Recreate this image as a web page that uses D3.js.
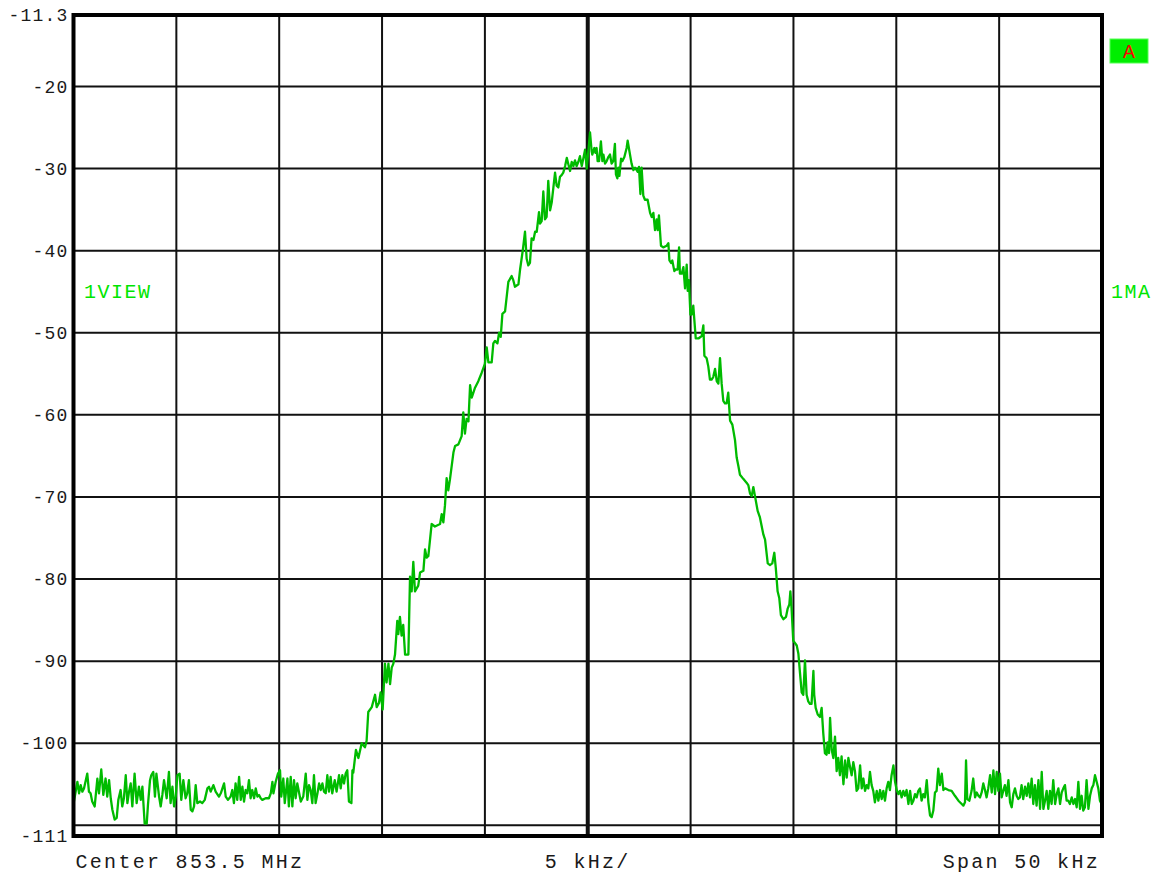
<!DOCTYPE html>
<html>
<head>
<meta charset="utf-8">
<script src="https://cdn.jsdelivr.net/npm/d3@7/dist/d3.min.js"></script>
<style>
  html, body { margin: 0; padding: 0; background: #fff; }
  svg { display: block; }
</style>
</head>
<body>
<svg id="chart" width="1156" height="878"></svg>
<script>
// ---- data ----
const centerLabel = "Center 853.5 MHz";
const divLabel = "5 kHz/";
const spanLabel = "Span 50 kHz";
const xTickValues = [-25, -20, -15, -10, -5, 0, 5, 10, 15, 20, 25];
const yGridValues = [-20, -30, -40, -50, -60, -70, -80, -90, -100, -110];
const yLabelValues = [-11.3, -20, -30, -40, -50, -60, -70, -80, -90, -100, -111.3];
const yLabelTexts = ["-11.3", "-20", "-30", "-40", "-50", "-60", "-70", "-80", "-90", "-100", "-111"];
const leftTag = "1VIEW";
const rightTag = "1MA";
const traceTag = "A";

// frequency offset from centre (kHz)
const freqKHz = [
-24.98,-24.81,-24.73,-24.65,-24.57,-24.49,-24.33,-24.25,-24.17,-24.09,-23.97,-23.84,-23.76,-23.65,-23.55,-23.44,-23.36,-23.27,-23.19,-23.11,
-23.00,-22.90,-22.82,-22.71,-22.63,-22.55,-22.46,-22.38,-22.30,-22.22,-22.14,-22.03,-21.93,-21.82,-21.73,-21.65,-21.54,-21.44,-21.38,-21.28,
-21.22,-21.12,-21.04,-20.97,-20.84,-20.76,-20.68,-20.60,-20.47,-20.36,-20.28,-20.19,-20.11,-20.03,-19.95,-19.84,-19.76,-19.66,-19.55,-19.47,
-19.39,-19.30,-19.22,-19.14,-19.06,-18.98,-18.85,-18.74,-18.62,-18.49,-18.41,-18.33,-18.20,-18.09,-17.93,-17.84,-17.68,-17.60,-17.49,-17.36,
-17.28,-17.20,-17.12,-17.04,-16.95,-16.87,-16.79,-16.71,-16.63,-16.55,-16.47,-16.39,-16.31,-16.22,-16.14,-16.06,-15.98,-15.90,-15.82,-15.66,
-15.50,-15.41,-15.33,-15.28,-15.17,-15.06,-14.96,-14.90,-14.80,-14.73,-14.60,-14.53,-14.44,-14.36,-14.28,-14.20,-14.12,-13.95,-13.83,-13.71,
-13.63,-13.55,-13.47,-13.39,-13.31,-13.23,-13.14,-13.06,-12.98,-12.90,-12.82,-12.74,-12.66,-12.58,-12.50,-12.42,-12.30,-12.21,-12.09,-12.01,
-11.93,-11.85,-11.77,-11.69,-11.61,-11.49,-11.44,
-11.40,-11.27,-11.15,-10.99,-10.83,-10.75,-10.67,-10.50,-10.34,-10.26,-10.15,-10.07,-9.97,-9.86,-9.78,-9.69,-9.61,-9.53,-9.45,-9.37,
-9.26,-9.21,-9.13,-9.05,-8.97,-8.88,-8.72,-8.64,-8.56,-8.48,-8.40,-8.24,-8.15,-7.99,-7.91,-7.83,-7.75,-7.59,-7.43,-7.18,
-7.10,-7.02,-6.94,-6.86,-6.78,-6.70,-6.53,-6.45,-6.29,-6.13,-6.05,-5.97,-5.89,-5.80,-5.72,-5.64,-5.48,-5.32,-5.16,-5.00,
-4.91,-4.83,-4.67,-4.59,-4.51,-4.39,-4.31,-4.23,-4.15,-4.02,-3.86,-3.70,-3.62,-3.54,-3.37,-3.29,-3.16,-3.05,-2.97,-2.89,
-2.81,-2.73,-2.64,-2.56,-2.48,-2.37,-2.32,-2.24,-2.16,-2.08,-2.00,-1.92,-1.83,-1.75,-1.67,-1.59,-1.51,-1.43,-1.35,-1.27,
-1.19,-1.10,-1.02,-0.94,-0.86,-0.78,-0.70,-0.62,-0.54,-0.46,-0.38,-0.29,-0.21,-0.13,-0.05,0.03,0.11,0.19,
0.22,0.32,0.38,0.43,0.48,0.55,0.64,0.71,0.76,0.84,0.92,1.00,1.08,1.16,1.24,1.32,1.37,1.44,1.49,1.54,
1.62,1.68,1.78,1.89,1.94,2.02,2.13,2.22,2.30,2.43,2.49,2.56,2.62,2.70,2.78,2.91,3.03,3.11,3.19,3.27,
3.35,3.40,3.46,3.56,3.67,3.84,3.92,3.97,4.05,4.11,4.21,4.27,4.37,4.44,4.48,4.57,4.65,4.73,4.81,4.86,
4.92,4.99,5.05,5.13,5.25,5.38,5.54,5.62,5.67,5.78,5.86,5.94,6.02,6.10,6.19,6.27,6.35,6.43,6.51,6.59,
6.67,6.75,6.83,6.92,7.03,7.16,7.24,7.32,7.40,7.56,7.73,7.81,7.89,7.97,8.05,8.13,8.26,8.37,8.54,8.62,
8.75,8.86,8.97,9.07,9.14,9.18,9.23,9.31,9.39,9.51,9.64,9.72,9.80,9.85,9.91,9.99,10.16,10.24,10.32,10.40,
10.48,10.56,10.64,10.72,10.80,10.88,10.97,11.01,11.08,11.18,11.29,11.37,11.45,11.53,11.61,11.66,11.73,11.78,11.86,11.94,
12.02,12.10,12.18,12.26,12.34,12.43,12.51,12.59,12.67,12.75,12.83,12.91,12.99,
13.07,13.15,13.24,13.32,13.40,13.48,13.56,13.64,13.72,13.80,13.88,13.96,14.05,14.13,14.21,14.29,14.37,14.45,14.53,14.61,
14.69,14.77,14.86,14.94,15.02,15.10,15.18,15.26,15.34,15.42,15.50,15.59,15.67,15.75,15.83,15.91,15.99,16.07,16.15,16.23,
16.31,16.39,16.48,16.56,16.64,16.72,16.80,16.88,16.96,17.04,17.12,17.21,17.29,17.37,17.53,17.69,17.85,18.02,18.18,18.26,
18.34,18.39,18.45,18.55,18.66,18.74,18.83,18.91,18.99,19.07,19.15,19.23,19.31,19.39,19.47,19.56,19.64,19.72,19.80,19.88,
19.96,20.04,20.12,20.20,20.28,20.36,20.45,20.53,20.61,20.69,20.77,20.85,20.93,21.01,21.09,21.17,21.26,21.34,21.42,21.50,
21.58,21.66,21.74,21.82,21.91,21.99,22.07,22.15,22.23,22.31,22.39,22.47,22.55,22.63,22.72,22.80,22.88,22.96,23.04,23.12,
23.20,23.28,23.36,23.44,23.53,23.61,23.69,23.77,23.85,23.93,24.01,24.09,24.17,24.25,24.34,24.42,24.50,24.58,24.66,24.74,
24.82,24.90,24.98
];

// trace level (dBm)
const levelDb = [
-107.1,-104.7,-106.1,-105.1,-105.9,-105.5,-103.7,-105.9,-106.1,-107.1,-107.7,-104.3,-106.1,-103.2,-106.3,-104.3,-106.5,-104.5,-106.7,-108.1,
-109.3,-109.1,-106.9,-105.7,-107.7,-106.7,-103.9,-107.3,-105.9,-104.9,-107.7,-103.7,-107.3,-105.3,-106.9,-105.3,-109.8,-109.8,-107.5,-104.5,
-103.9,-103.5,-106.5,-103.7,-106.5,-107.7,-106.3,-104.5,-106.7,-103.5,-107.3,-105.3,-107.7,-106.5,-103.9,-103.7,-106.9,-104.5,-106.7,-106.1,
-104.5,-108.1,-108.3,-107.7,-105.1,-107.3,-107.1,-107.3,-106.9,-105.5,-105.3,-105.9,-105.1,-105.9,-106.5,-106.1,-104.9,-106.5,-106.9,-106.5,
-105.7,-107.3,-104.9,-106.9,-104.1,-106.9,-105.3,-107.1,-105.7,-106.1,-104.5,-106.7,-105.7,-106.7,-105.5,-106.5,-106.3,-106.7,-106.9,-106.7,
-106.7,-106.1,-104.7,-106.1,-104.7,-103.7,-103.3,-106.5,-104.3,-107.3,-104.3,-107.7,-104.1,-107.7,-104.5,-106.7,-104.9,-107.1,-106.5,-103.7,
-106.9,-105.1,-105.7,-107.3,-103.9,-107.3,-106.1,-104.9,-105.7,-104.9,-105.9,-106.1,-103.9,-105.9,-104.1,-106.1,-104.5,-105.9,-103.9,-105.5,
-103.9,-104.9,-103.7,-103.3,-107.1,-107.3,-103.3,
-103.6,-100.8,-101.8,-100.0,-100.5,-99.7,-96.2,-95.6,-94.1,-95.6,-95.1,-93.8,-95.9,-90.3,-92.6,-90.3,-92.8,-90.8,-90.3,-89.2,
-85.1,-86.7,-84.6,-86.9,-85.6,-89.2,-89.2,-79.7,-81.5,-77.9,-81.5,-80.8,-79.2,-79.0,-76.4,-77.4,-77.2,-73.3,-73.6,-73.3,
-72.1,-73.1,-71.0,-67.7,-69.2,-67.9,-64.6,-63.8,-63.6,-62.6,-59.7,-62.3,-60.5,-60.8,-56.4,-57.9,-56.7,-55.9,-54.9,-53.8,
-51.8,-53.6,-53.6,-51.3,-51.0,-51.3,-50.0,-50.5,-47.7,-47.4,-43.8,-43.1,-43.6,-44.4,-44.1,-42.3,-40.0,-37.7,-41.0,-41.8,
-41.5,-38.5,-38.7,-37.7,-37.7,-35.3,-36.7,-36.4,-32.8,-36.2,-35.9,-31.5,-35.1,-34.1,-32.3,-30.5,-32.1,-32.3,-31.0,-30.8,
-30.5,-29.7,-28.7,-29.5,-30.3,-29.2,-29.7,-29.0,-29.7,-29.2,-28.5,-29.7,-28.7,-27.7,-30.0,-27.9,-25.6,-27.9,
-28.3,-27.5,-28.1,-27.5,-29.1,-29.1,-26.7,-29.1,-28.3,-29.4,-29.1,-28.6,-28.3,-29.4,-29.1,-27.0,-30.7,-31.2,-29.9,-30.9,
-28.8,-29.1,-28.6,-27.5,-26.6,-27.8,-29.4,-30.2,-29.9,-30.4,-29.8,-33.1,-29.9,-33.3,-33.8,-33.8,-35.4,-35.9,-35.4,-37.5,
-36.2,-37.5,-35.7,-39.4,-39.6,-39.4,-39.1,-41.2,-41.5,-41.2,-42.5,-42.3,-42.3,-39.6,-42.8,-42.8,-42.0,-44.6,-41.7,-44.9,
-43.6,-47.8,-47.8,-46.7,-50.7,-50.7,-50.4,-49.1,-52.8,-53.1,-54.1,-55.7,-55.7,-55.4,-54.4,-55.9,-56.2,-53.1,-56.2,-58.3,
-58.6,-58.6,-57.3,-60.7,-61.2,-63.1,-65.2,-66.2,-67.3,-67.8,-68.3,-68.6,-69.6,-69.9,-68.8,-69.9,-71.7,-72.5,-74.6,-75.2,
-78.1,-78.3,-78.1,-76.8,-78.6,-79.9,-81.5,-82.3,-84.4,-84.9,-84.6,-83.6,-83.1,-81.5,-83.6,-87.5,-88.1,-89.1,-91.5,-93.8,
-94.1,-89.9,-94.1,-94.9,-95.2,-95.2,-91.2,-94.1,-95.7,-96.5,-96.8,-95.7,-98.8,-101.2,-101.4,-99.9,-101.2,-96.9,-100.8,-101.8,
-99.2,-103.4,-101.8,-103.9,-101.6,-105.0,-102.1,-104.2,-101.8,-102.9,-103.9,-102.3,-103.4,
-105.8,-105.5,-102.7,-105.5,-104.3,-105.8,-105.1,-105.5,-103.5,-105.1,-105.8,-107.2,-105.8,-107.0,-105.7,-106.8,-105.8,-107.0,-105.5,-104.7,
-105.7,-103.9,-102.7,-104.7,-105.7,-106.2,-105.8,-106.6,-105.8,-106.4,-105.7,-107.4,-105.8,-107.4,-107.0,-106.2,-106.6,-105.8,-105.5,-107.0,
-106.2,-106.6,-104.5,-107.2,-108.8,-109.0,-108.2,-106.0,-105.8,-103.1,-105.1,-103.7,-105.7,-105.5,-105.7,-105.8,-106.4,-107.0,-107.4,-107.6,
-107.2,-102.1,-106.8,-107.0,-105.8,-104.3,-106.6,-106.0,-106.4,-106.6,-106.0,-104.9,-105.7,-106.6,-105.5,-103.9,-106.0,-103.3,-106.2,-103.5,
-105.8,-103.7,-106.6,-105.8,-105.1,-106.4,-104.5,-107.2,-107.8,-106.2,-105.5,-106.4,-106.8,-106.6,-105.1,-106.8,-105.3,-106.4,-104.9,-106.6,
-104.3,-107.4,-105.1,-107.6,-104.5,-108.0,-103.5,-108.0,-107.0,-105.8,-108.0,-105.8,-107.4,-104.5,-107.4,-106.2,-105.5,-107.4,-106.0,-105.5,
-105.1,-107.0,-107.0,-107.4,-106.6,-107.4,-106.8,-107.8,-104.7,-108.0,-106.4,-108.2,-107.8,-104.5,-108.0,-106.4,-105.5,-105.1,-103.9,-104.7,
-105.5,-107.0,-107.4
];

// ---- chart ----
const svg = d3.select("#chart");
const plotLeft = 73.5, plotRight = 1102, plotTop = 15, plotBottom = 836;
const x = d3.scaleLinear().domain([-25, 25]).range([plotLeft, plotRight]);
const y = d3.scaleLinear().domain([-111.3, -11.3]).range([plotBottom, plotTop]);

const monoFont = "'Liberation Mono', 'DejaVu Sans Mono', monospace";
const ink = "#1a1a1a";

// grid
const grid = svg.append("g");
grid.selectAll("line.h").data(yGridValues).join("line")
  .attr("class", "h")
  .attr("x1", plotLeft).attr("x2", plotRight)
  .attr("y1", d => y(d)).attr("y2", d => y(d))
  .attr("stroke", "#111").attr("stroke-width", 2);
grid.selectAll("line.v").data(xTickValues.slice(1, -1)).join("line")
  .attr("class", "v")
  .attr("x1", d => x(d)).attr("x2", d => x(d))
  .attr("y1", plotTop).attr("y2", plotBottom)
  .attr("stroke", "#111").attr("stroke-width", d => d === 0 ? 4 : 2);

// trace
const pts = freqKHz.map((f, i) => [f, levelDb[i]]);
svg.append("path")
  .datum(pts)
  .attr("fill", "none")
  .attr("stroke", "#00bb00")
  .attr("stroke-width", 2.3)
  .attr("stroke-linejoin", "round")
  .attr("d", d3.line().x(d => x(d[0])).y(d => y(d[1])));

// frame
svg.append("rect")
  .attr("x", plotLeft).attr("y", plotTop)
  .attr("width", plotRight - plotLeft).attr("height", plotBottom - plotTop)
  .attr("fill", "none").attr("stroke", "#000").attr("stroke-width", 4);

// y labels via axis
const yAxis = d3.axisLeft(y)
  .tickValues(yLabelValues)
  .tickSize(0)
  .tickPadding(2)
  .tickFormat((d, i) => yLabelTexts[i]);
const gy = svg.append("g").attr("transform", `translate(${plotLeft - 3},0)`).call(yAxis);
gy.select(".domain").remove();
gy.selectAll("text")
  .attr("font-family", monoFont)
  .attr("font-size", 18)
  .attr("letter-spacing", 1.2)
  .attr("fill", ink);

// bottom labels
const bottomText = svg.append("g")
  .attr("font-family", monoFont)
  .attr("font-size", 20)
  .attr("letter-spacing", 2.3)
  .attr("fill", ink);
bottomText.append("text").attr("x", plotLeft + 2).attr("y", 868).text(centerLabel);
bottomText.append("text").attr("x", x(0)).attr("y", 868).attr("text-anchor", "middle").text(divLabel);
bottomText.append("text").attr("x", plotRight - 2).attr("y", 868).attr("text-anchor", "end").text(spanLabel);

// side tags
const tagColor = "#00e600";
svg.append("text").attr("x", 84).attr("y", 298)
  .attr("font-family", monoFont).attr("font-size", 20).attr("letter-spacing", 1.5)
  .attr("fill", tagColor).text(leftTag);
svg.append("text").attr("x", 1111).attr("y", 298)
  .attr("font-family", monoFont).attr("font-size", 20).attr("letter-spacing", 1.5)
  .attr("fill", tagColor).text(rightTag);

svg.append("rect").attr("x", 1110).attr("y", 39).attr("width", 38).attr("height", 24)
  .attr("fill", "#00ee00").attr("stroke", "#55ff55").attr("stroke-width", 1);
svg.append("text").attr("x", 1129).attr("y", 57.5).attr("text-anchor", "middle")
  .attr("font-family", monoFont).attr("font-size", 20)
  .attr("fill", "#ff0000").text(traceTag);
</script>
</body>
</html>
